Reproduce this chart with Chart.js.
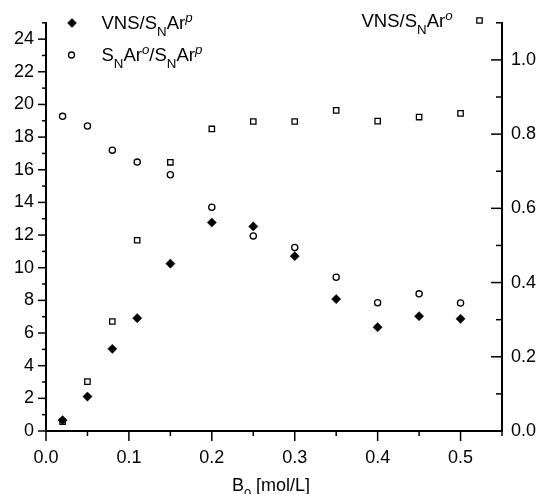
<!DOCTYPE html>
<html>
<head>
<meta charset="utf-8">
<script src="https://cdn.jsdelivr.net/npm/chart.js@4.4.1/dist/chart.umd.min.js"></script>
<style>
  html, body { margin: 0; padding: 0; background: #fff; }
</style>
</head>
<body>
<canvas id="chart" width="542" height="494"></canvas>
<script>
// data
var concB0 = [0.02, 0.05, 0.08, 0.11, 0.15, 0.20, 0.25, 0.30, 0.35, 0.40, 0.45, 0.50];
var vnsSnarP = [0.66, 2.11, 5.03, 6.91, 10.25, 12.77, 12.53, 10.71, 8.08, 6.36, 7.03, 6.87];
var snarOSnarP = [19.27, 18.68, 17.2, 16.47, 15.69, 13.7, 11.95, 11.24, 9.42, 7.86, 8.4, 7.84];
var vnsSnarO = [0.025, 0.133, 0.295, 0.514, 0.724, 0.814, 0.834, 0.834, 0.864, 0.835, 0.846, 0.856];

// axis ticks
var xTicks = [0, 0.1, 0.2, 0.3, 0.4, 0.5];
var leftTicks = [0, 2, 4, 6, 8, 10, 12, 14, 16, 18, 20, 22, 24];
var rightTicks = [0, 0.2, 0.4, 0.6, 0.8, 1.0];

var FONT = 'Liberation Sans';
Chart.defaults.font.family = FONT;
Chart.defaults.color = '#000';

function toPoints(xs, ys) {
  var out = [];
  for (var i = 0; i < xs.length; i++) out.push({x: xs[i], y: ys[i]});
  return out;
}

function setTicks(list) {
  return function(scale) {
    scale.ticks = list.map(function(v) { return {value: v}; });
  };
}

// text with subscripts / italic superscripts
function drawRich(ctx, parts, x, y, size) {
  for (var i = 0; i < parts.length; i++) {
    var p = parts[i];
    var fs = size, dy = 0;
    if (p.t == 'sub') { fs = size * 0.72; dy = size * 0.38; }
    if (p.t == 'sup') { fs = size * 0.72; dy = -size * 0.36; }
    ctx.font = (p.i ? 'italic ' : '') + fs + 'px "' + FONT + '"';
    ctx.fillText(p.s, x, y + dy);
    x += ctx.measureText(p.s).width;
  }
  return x;
}

function line(ctx, x1, y1, x2, y2) {
  ctx.beginPath();
  ctx.moveTo(x1, y1);
  ctx.lineTo(x2, y2);
  ctx.stroke();
}

var decorations = {
  id: 'decorations',
  afterDraw: function(chart) {
    var ctx = chart.ctx;
    var area = chart.chartArea;
    var sx = chart.scales.x, sy = chart.scales.y, sy2 = chart.scales.y2;
    var v, p;
    ctx.save();
    ctx.strokeStyle = '#000';
    ctx.lineWidth = 1.5;

    // bottom ticks, outward
    for (v = 0; v <= 0.55001; v += 0.05) {
      p = sx.getPixelForValue(v);
      var major = Math.abs(v * 10 - Math.round(v * 10)) < 1e-6;
      line(ctx, p, area.bottom, p, area.bottom + (major ? 10 : 5));
    }
    // left ticks, outward
    for (v = 0; v <= 25; v += 1) {
      p = sy.getPixelForValue(v);
      line(ctx, area.left, p, area.left - (v % 2 == 0 ? 8 : 4), p);
    }
    // right ticks, inward
    for (v = 0; v <= 11; v += 1) {
      p = sy2.getPixelForValue(v / 10);
      line(ctx, area.right, p, area.right - (v % 2 == 0 ? 11 : 6), p);
    }

    // legend markers
    ctx.fillStyle = '#000';
    ctx.lineWidth = 0.5;
    Chart.helpers.drawPoint(ctx, {pointStyle: 'rectRot', radius: 4.5, borderWidth: 0.5}, 72, 23);
    ctx.fillStyle = '#fff';
    ctx.lineWidth = 1.3;
    Chart.helpers.drawPoint(ctx, {pointStyle: 'circle', radius: 3, borderWidth: 1.3}, 71.5, 55);
    Chart.helpers.drawPoint(ctx, {pointStyle: 'rect', radius: 3.8, borderWidth: 1.3}, 479.5, 20.5);

    // legend text
    ctx.fillStyle = '#000';
    ctx.textBaseline = 'alphabetic';
    ctx.textAlign = 'left';
    drawRich(ctx, [{s: 'VNS/S'}, {s: 'N', t: 'sub'}, {s: 'Ar'}, {s: 'p', t: 'sup', i: true}], 101.5, 28.5, 18.5);
    drawRich(ctx, [{s: 'S'}, {s: 'N', t: 'sub'}, {s: 'Ar'}, {s: 'o', t: 'sup', i: true}, {s: '/S'},
      {s: 'N', t: 'sub'}, {s: 'Ar'}, {s: 'p', t: 'sup', i: true}], 101.5, 61, 18.5);
    drawRich(ctx, [{s: 'VNS/S'}, {s: 'N', t: 'sub'}, {s: 'Ar'}, {s: 'o', t: 'sup', i: true}], 361.5, 27, 18.5);

    // x axis title
    var title = [{s: 'B'}, {s: '0', t: 'sub'}, {s: ' [mol/L]'}];
    var tw = drawRich(ctx, title, 0, -100, 18);
    drawRich(ctx, title, (area.left + area.right) / 2 - 3 - tw / 2, 491, 18);
    ctx.restore();
  }
};

new Chart(document.getElementById('chart'), {
  type: 'scatter',
  data: {
    datasets: [{
      label: 'VNS/SNAr p',
      data: toPoints(concB0, vnsSnarP),
      yAxisID: 'y',
      pointStyle: 'rectRot',
      pointRadius: 4.6,
      backgroundColor: '#000',
      borderColor: '#000',
      borderWidth: 0.5
    }, {
      label: 'SNAr o / SNAr p',
      data: toPoints(concB0, snarOSnarP),
      yAxisID: 'y',
      pointStyle: 'circle',
      pointRadius: 3.1,
      backgroundColor: '#fff',
      borderColor: '#000',
      borderWidth: 1.3
    }, {
      label: 'VNS/SNAr o',
      data: toPoints(concB0, vnsSnarO),
      yAxisID: 'y2',
      pointStyle: 'rect',
      pointRadius: 3.8,
      backgroundColor: '#fff',
      borderColor: '#000',
      borderWidth: 1.3
    }]
  },
  options: {
    responsive: false,
    animation: false,
    layout: {padding: {top: 19, left: 0, right: 0, bottom: 0}},
    plugins: {legend: {display: false}, tooltip: {enabled: false}},
    scales: {
      x: {
        type: 'linear', position: 'bottom', min: 0, max: 0.55,
        afterBuildTicks: setTicks(xTicks),
        afterFit: function(s) { s.height = 63; },
        grid: {display: false, drawTicks: false},
        border: {display: true, color: '#000', width: 2},
        ticks: {font: {size: 18}, padding: 16, maxRotation: 0, autoSkip: false,
          callback: function(v) { return v.toFixed(1); }}
      },
      y: {
        type: 'linear', position: 'left', min: 0, max: 25,
        afterBuildTicks: setTicks(leftTicks),
        afterFit: function(s) { s.width = 46; },
        grid: {display: false, drawTicks: false},
        border: {display: true, color: '#000', width: 2},
        ticks: {font: {size: 18}, padding: 12, autoSkip: false,
          callback: function(v) { return String(v); }}
      },
      y2: {
        type: 'linear', position: 'right', min: 0, max: 1.1,
        afterBuildTicks: setTicks(rightTicks),
        afterFit: function(s) { s.width = 40; },
        grid: {display: false, drawTicks: false},
        border: {display: true, color: '#000', width: 2},
        ticks: {font: {size: 18}, padding: 9, autoSkip: false,
          callback: function(v) { return v.toFixed(1); }}
      }
    }
  },
  plugins: [decorations]
});
</script>
</body>
</html>
